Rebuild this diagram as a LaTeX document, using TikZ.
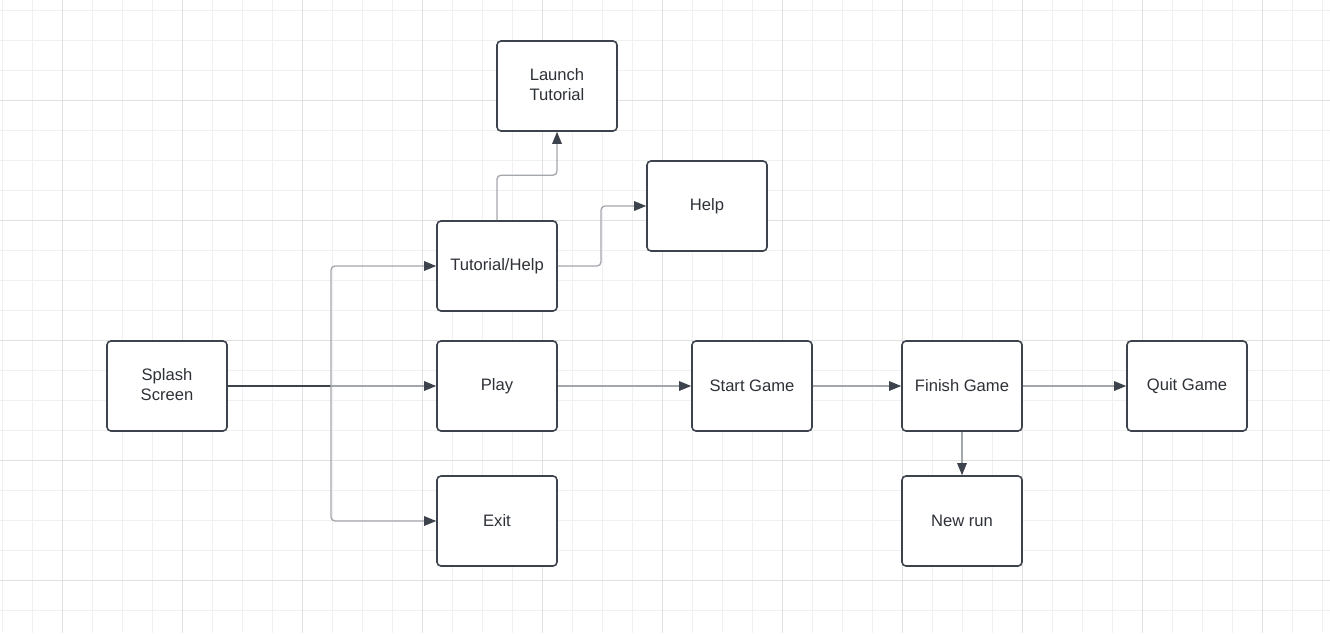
\documentclass[tikz,border=0pt]{standalone}
\usepackage{fontspec}
\setmainfont{Liberation Sans}
\usetikzlibrary{arrows.meta}
\definecolor{minorgrid}{HTML}{F0F0F0}
\definecolor{majorgrid}{HTML}{E0E0E0}
\definecolor{boxline}{HTML}{3D434C}
\definecolor{conn}{HTML}{A3A6AB}
\definecolor{txt}{HTML}{2E3238}
\newcommand{\twolines}[2]{\raisebox{2.5pt}{\begin{tabular}{@{}c@{}}#1\\#2\end{tabular}}}
\tikzset{
  stepbox/.style={draw=boxline, line width=1.6pt, rounded corners=4pt, fill=white,
    minimum width=120pt, minimum height=90pt, inner sep=0pt, align=center,
    font=\fontsize{16.6}{20}\selectfont, text=txt},
  link/.style={draw=conn, line width=1.3pt, rounded corners=4pt,
    -{Triangle[length=12pt,width=9.5pt,fill=boxline,color=boxline]}},
}
\begin{document}
\begin{tikzpicture}[x=1pt,y=-1pt]
\useasboundingbox (0,0) rectangle (1330,633);
\fill[white] (0,0) rectangle (1330,633);
% grid
\foreach \i in {0,...,44} {
  \draw[minorgrid, line width=1pt] ({2+30*\i},0) -- ({2+30*\i},633);
}
\foreach \j in {0,...,20} {
  \draw[minorgrid, line width=1pt] (0,{10+30*\j}) -- (1330,{10+30*\j});
}
\foreach \i in {0,...,10} {
  \draw[majorgrid, line width=1pt] ({62+120*\i},0) -- ({62+120*\i},633);
}
\foreach \j in {0,...,4} {
  \draw[majorgrid, line width=1pt] (0,{100+120*\j}) -- (1330,{100+120*\j});
}
% nodes
\node[stepbox] (splash) at (167,386) {\twolines{Splash}{Screen}};
\node[stepbox] (tut) at (497,266) {Tutorial/Help};
\node[stepbox] (play) at (497,386) {Play};
\node[stepbox] (exit) at (497,521) {Exit};
\node[stepbox] (launch) at (557,86) {\twolines{Launch}{Tutorial}};
\node[stepbox] (help) at (707,206) {Help};
\node[stepbox] (start) at (752,386) {Start Game};
\node[stepbox] (finish) at (962,386) {Finish Game};
\node[stepbox] (quit) at (1187,386) {Quit Game};
\node[stepbox] (newrun) at (962,521) {New run};
\coordinate (branch) at (331,386);
% connectors
\draw[boxline, line width=1.6pt] (splash.east) -- (branch);
\draw[link] (branch) -- (play.west);
\draw[link] (branch) |- (tut.west);
\draw[link] (branch) |- (exit.west);
\draw[link] (tut.north) -- ++(0,-45) -| (launch.south);
\draw[link] (tut.east) -- (601,266) |- (help.west);
\draw[link] (play.east) -- (start.west);
\draw[link] (start.east) -- (finish.west);
\draw[link] (finish.east) -- (quit.west);
\draw[link] (finish.south) -- (newrun.north);
\end{tikzpicture}
\end{document}
